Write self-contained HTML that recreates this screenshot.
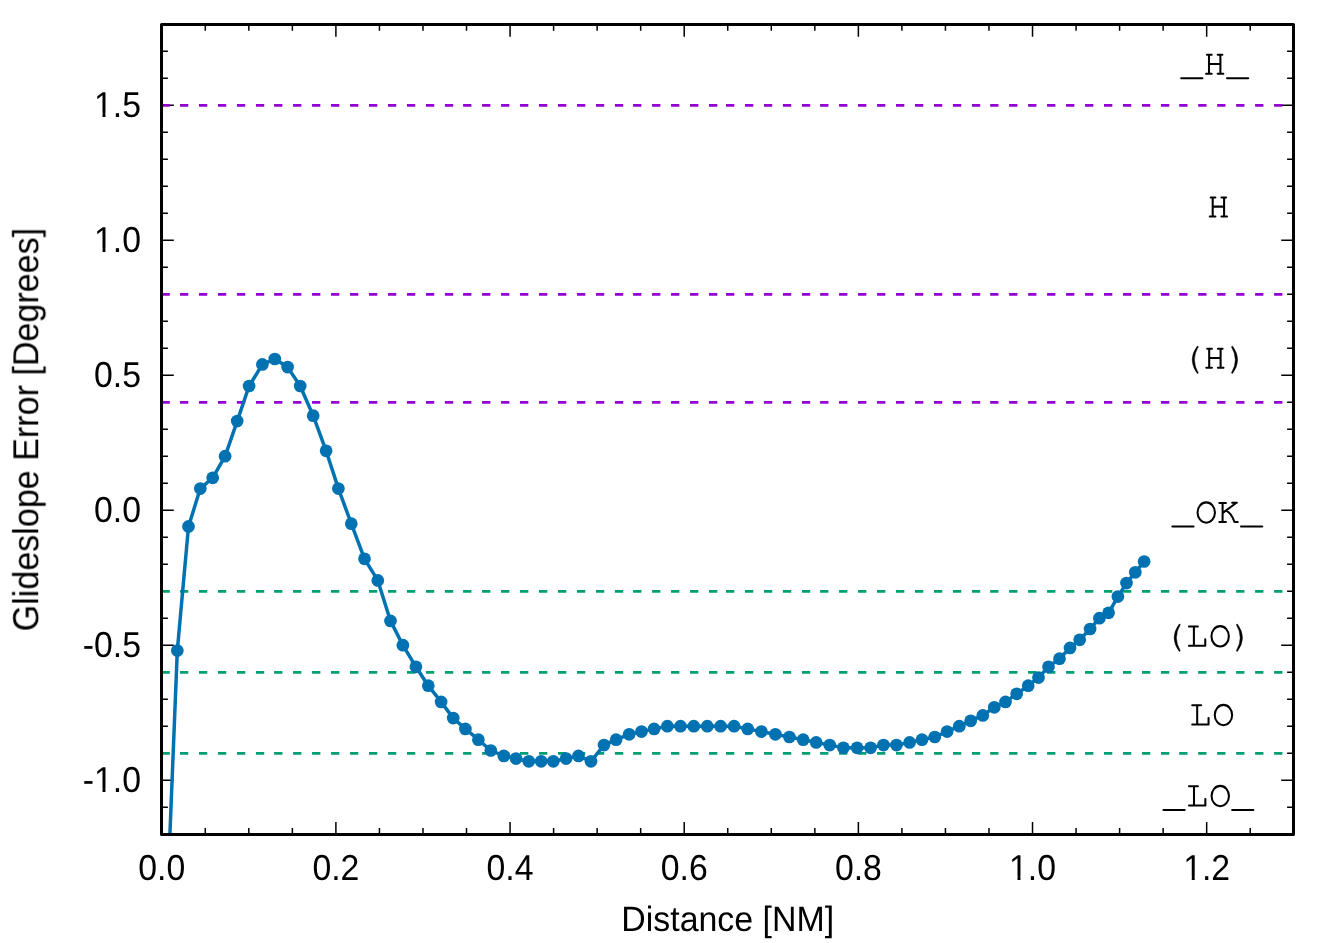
<!DOCTYPE html>
<html><head><meta charset="utf-8"><title>Glideslope Error</title>
<style>
html,body{margin:0;padding:0;background:#fff;}
body{width:1318px;height:943px;overflow:hidden;}
svg{display:block;}
text{font-family:"Liberation Sans",sans-serif;fill:#000;text-rendering:geometricPrecision;}
.t{opacity:0.999;}
</style></head><body>
<svg width="1318" height="943" viewBox="0 0 1318 943">
<rect x="0" y="0" width="1318" height="943" fill="#ffffff"/>
<path d="M161.75,834.4v-12.3M161.75,24.4v12.3M205.29,834.4v-6.4M205.29,24.4v6.4M248.83,834.4v-6.4M248.83,24.4v6.4M292.37,834.4v-6.4M292.37,24.4v6.4M335.90,834.4v-12.3M335.90,24.4v12.3M379.44,834.4v-6.4M379.44,24.4v6.4M422.98,834.4v-6.4M422.98,24.4v6.4M466.52,834.4v-6.4M466.52,24.4v6.4M510.06,834.4v-12.3M510.06,24.4v12.3M553.60,834.4v-6.4M553.60,24.4v6.4M597.13,834.4v-6.4M597.13,24.4v6.4M640.67,834.4v-6.4M640.67,24.4v6.4M684.21,834.4v-12.3M684.21,24.4v12.3M727.75,834.4v-6.4M727.75,24.4v6.4M771.29,834.4v-6.4M771.29,24.4v6.4M814.83,834.4v-6.4M814.83,24.4v6.4M858.37,834.4v-12.3M858.37,24.4v12.3M901.90,834.4v-6.4M901.90,24.4v6.4M945.44,834.4v-6.4M945.44,24.4v6.4M988.98,834.4v-6.4M988.98,24.4v6.4M1032.52,834.4v-12.3M1032.52,24.4v12.3M1076.06,834.4v-6.4M1076.06,24.4v6.4M1119.60,834.4v-6.4M1119.60,24.4v6.4M1163.13,834.4v-6.4M1163.13,24.4v6.4M1206.67,834.4v-12.3M1206.67,24.4v12.3M1250.21,834.4v-6.4M1250.21,24.4v6.4M1293.75,834.4v-6.4M1293.75,24.4v6.4M161.5,834.20h6.4M1293.5,834.20h-6.4M161.5,807.20h6.4M1293.5,807.20h-6.4M161.5,780.20h12.3M1293.5,780.20h-12.3M161.5,753.20h6.4M1293.5,753.20h-6.4M161.5,726.20h6.4M1293.5,726.20h-6.4M161.5,699.20h6.4M1293.5,699.20h-6.4M161.5,672.20h6.4M1293.5,672.20h-6.4M161.5,645.20h12.3M1293.5,645.20h-12.3M161.5,618.20h6.4M1293.5,618.20h-6.4M161.5,591.20h6.4M1293.5,591.20h-6.4M161.5,564.20h6.4M1293.5,564.20h-6.4M161.5,537.20h6.4M1293.5,537.20h-6.4M161.5,510.20h12.3M1293.5,510.20h-12.3M161.5,483.20h6.4M1293.5,483.20h-6.4M161.5,456.20h6.4M1293.5,456.20h-6.4M161.5,429.20h6.4M1293.5,429.20h-6.4M161.5,402.20h6.4M1293.5,402.20h-6.4M161.5,375.20h12.3M1293.5,375.20h-12.3M161.5,348.20h6.4M1293.5,348.20h-6.4M161.5,321.20h6.4M1293.5,321.20h-6.4M161.5,294.20h6.4M1293.5,294.20h-6.4M161.5,267.20h6.4M1293.5,267.20h-6.4M161.5,240.20h12.3M1293.5,240.20h-12.3M161.5,213.20h6.4M1293.5,213.20h-6.4M161.5,186.20h6.4M1293.5,186.20h-6.4M161.5,159.20h6.4M1293.5,159.20h-6.4M161.5,132.20h6.4M1293.5,132.20h-6.4M161.5,105.20h12.3M1293.5,105.20h-12.3M161.5,78.20h6.4M1293.5,78.20h-6.4M161.5,51.20h6.4M1293.5,51.20h-6.4M161.5,24.20h6.4M1293.5,24.20h-6.4" stroke="#000" stroke-width="1.5" fill="none"/>
<path d="M161.50,105.40H169.80M180.00,105.40H188.30M198.98,105.40H207.28M217.96,105.40H226.26M236.94,105.40H245.24M255.92,105.40H264.22M274.10,105.40H282.40M293.08,105.40H301.38M312.06,105.40H320.36M331.04,105.40H339.34M350.02,105.40H358.32M369.00,105.40H377.30M387.98,105.40H396.28M406.96,105.40H415.26M425.94,105.40H434.24M444.92,105.40H453.22M463.10,105.40H471.40M482.08,105.40H490.38M501.06,105.40H509.36M520.04,105.40H528.34M539.02,105.40H547.32M558.00,105.40H566.30M576.98,105.40H585.28M595.96,105.40H604.26M614.94,105.40H623.24M633.10,105.40H641.40M652.08,105.40H660.38M671.06,105.40H679.36M690.04,105.40H698.34M709.02,105.40H717.32M726.00,105.40H734.30M744.98,105.40H753.28M763.96,105.40H772.26M782.94,105.40H791.24M801.92,105.40H810.22M820.10,105.40H828.40M839.08,105.40H847.38M858.06,105.40H866.36M877.04,105.40H885.34M896.02,105.40H904.32M915.00,105.40H923.30M933.98,105.40H942.28M952.96,105.40H961.26M971.94,105.40H980.24M990.15,105.40H998.45M1009.13,105.40H1017.43M1028.11,105.40H1036.41M1047.09,105.40H1055.39M1066.07,105.40H1074.37M1085.05,105.40H1093.35M1104.03,105.40H1112.33M1123.01,105.40H1131.31M1141.99,105.40H1150.29M1160.97,105.40H1169.27M1179.20,105.40H1187.50M1198.18,105.40H1206.48M1217.16,105.40H1225.46M1236.14,105.40H1244.44M1255.12,105.40H1263.42M1274.10,105.40H1282.40M1293.08,105.40H1293.50" stroke="#9400d3" stroke-width="2.7" fill="none"/>
<path d="M161.50,294.40H169.80M180.00,294.40H188.30M198.98,294.40H207.28M217.96,294.40H226.26M236.94,294.40H245.24M255.92,294.40H264.22M274.10,294.40H282.40M293.08,294.40H301.38M312.06,294.40H320.36M331.04,294.40H339.34M350.02,294.40H358.32M369.00,294.40H377.30M387.98,294.40H396.28M406.96,294.40H415.26M425.94,294.40H434.24M444.92,294.40H453.22M463.10,294.40H471.40M482.08,294.40H490.38M501.06,294.40H509.36M520.04,294.40H528.34M539.02,294.40H547.32M558.00,294.40H566.30M576.98,294.40H585.28M595.96,294.40H604.26M614.94,294.40H623.24M633.10,294.40H641.40M652.08,294.40H660.38M671.06,294.40H679.36M690.04,294.40H698.34M709.02,294.40H717.32M726.00,294.40H734.30M744.98,294.40H753.28M763.96,294.40H772.26M782.94,294.40H791.24M801.92,294.40H810.22M820.10,294.40H828.40M839.08,294.40H847.38M858.06,294.40H866.36M877.04,294.40H885.34M896.02,294.40H904.32M915.00,294.40H923.30M933.98,294.40H942.28M952.96,294.40H961.26M971.94,294.40H980.24M990.15,294.40H998.45M1009.13,294.40H1017.43M1028.11,294.40H1036.41M1047.09,294.40H1055.39M1066.07,294.40H1074.37M1085.05,294.40H1093.35M1104.03,294.40H1112.33M1123.01,294.40H1131.31M1141.99,294.40H1150.29M1160.97,294.40H1169.27M1179.20,294.40H1187.50M1198.18,294.40H1206.48M1217.16,294.40H1225.46M1236.14,294.40H1244.44M1255.12,294.40H1263.42M1274.10,294.40H1282.40M1293.08,294.40H1293.50" stroke="#9400d3" stroke-width="2.7" fill="none"/>
<path d="M161.50,402.40H169.80M180.00,402.40H188.30M198.98,402.40H207.28M217.96,402.40H226.26M236.94,402.40H245.24M255.92,402.40H264.22M274.10,402.40H282.40M293.08,402.40H301.38M312.06,402.40H320.36M331.04,402.40H339.34M350.02,402.40H358.32M369.00,402.40H377.30M387.98,402.40H396.28M406.96,402.40H415.26M425.94,402.40H434.24M444.92,402.40H453.22M463.10,402.40H471.40M482.08,402.40H490.38M501.06,402.40H509.36M520.04,402.40H528.34M539.02,402.40H547.32M558.00,402.40H566.30M576.98,402.40H585.28M595.96,402.40H604.26M614.94,402.40H623.24M633.10,402.40H641.40M652.08,402.40H660.38M671.06,402.40H679.36M690.04,402.40H698.34M709.02,402.40H717.32M726.00,402.40H734.30M744.98,402.40H753.28M763.96,402.40H772.26M782.94,402.40H791.24M801.92,402.40H810.22M820.10,402.40H828.40M839.08,402.40H847.38M858.06,402.40H866.36M877.04,402.40H885.34M896.02,402.40H904.32M915.00,402.40H923.30M933.98,402.40H942.28M952.96,402.40H961.26M971.94,402.40H980.24M990.15,402.40H998.45M1009.13,402.40H1017.43M1028.11,402.40H1036.41M1047.09,402.40H1055.39M1066.07,402.40H1074.37M1085.05,402.40H1093.35M1104.03,402.40H1112.33M1123.01,402.40H1131.31M1141.99,402.40H1150.29M1160.97,402.40H1169.27M1179.20,402.40H1187.50M1198.18,402.40H1206.48M1217.16,402.40H1225.46M1236.14,402.40H1244.44M1255.12,402.40H1263.42M1274.10,402.40H1282.40M1293.08,402.40H1293.50" stroke="#9400d3" stroke-width="2.7" fill="none"/>
<path d="M161.50,591.40H169.80M180.00,591.40H188.30M198.98,591.40H207.28M217.96,591.40H226.26M236.94,591.40H245.24M255.92,591.40H264.22M274.10,591.40H282.40M293.08,591.40H301.38M312.06,591.40H320.36M331.04,591.40H339.34M350.02,591.40H358.32M369.00,591.40H377.30M387.98,591.40H396.28M406.96,591.40H415.26M425.94,591.40H434.24M444.92,591.40H453.22M463.10,591.40H471.40M482.08,591.40H490.38M501.06,591.40H509.36M520.04,591.40H528.34M539.02,591.40H547.32M558.00,591.40H566.30M576.98,591.40H585.28M595.96,591.40H604.26M614.94,591.40H623.24M633.10,591.40H641.40M652.08,591.40H660.38M671.06,591.40H679.36M690.04,591.40H698.34M709.02,591.40H717.32M726.00,591.40H734.30M744.98,591.40H753.28M763.96,591.40H772.26M782.94,591.40H791.24M801.92,591.40H810.22M820.10,591.40H828.40M839.08,591.40H847.38M858.06,591.40H866.36M877.04,591.40H885.34M896.02,591.40H904.32M915.00,591.40H923.30M933.98,591.40H942.28M952.96,591.40H961.26M971.94,591.40H980.24M990.15,591.40H998.45M1009.13,591.40H1017.43M1028.11,591.40H1036.41M1047.09,591.40H1055.39M1066.07,591.40H1074.37M1085.05,591.40H1093.35M1104.03,591.40H1112.33M1123.01,591.40H1131.31M1141.99,591.40H1150.29M1160.97,591.40H1169.27M1179.20,591.40H1187.50M1198.18,591.40H1206.48M1217.16,591.40H1225.46M1236.14,591.40H1244.44M1255.12,591.40H1263.42M1274.10,591.40H1282.40M1293.08,591.40H1293.50" stroke="#009e73" stroke-width="2.7" fill="none"/>
<path d="M161.50,672.40H169.80M180.00,672.40H188.30M198.98,672.40H207.28M217.96,672.40H226.26M236.94,672.40H245.24M255.92,672.40H264.22M274.10,672.40H282.40M293.08,672.40H301.38M312.06,672.40H320.36M331.04,672.40H339.34M350.02,672.40H358.32M369.00,672.40H377.30M387.98,672.40H396.28M406.96,672.40H415.26M425.94,672.40H434.24M444.92,672.40H453.22M463.10,672.40H471.40M482.08,672.40H490.38M501.06,672.40H509.36M520.04,672.40H528.34M539.02,672.40H547.32M558.00,672.40H566.30M576.98,672.40H585.28M595.96,672.40H604.26M614.94,672.40H623.24M633.10,672.40H641.40M652.08,672.40H660.38M671.06,672.40H679.36M690.04,672.40H698.34M709.02,672.40H717.32M726.00,672.40H734.30M744.98,672.40H753.28M763.96,672.40H772.26M782.94,672.40H791.24M801.92,672.40H810.22M820.10,672.40H828.40M839.08,672.40H847.38M858.06,672.40H866.36M877.04,672.40H885.34M896.02,672.40H904.32M915.00,672.40H923.30M933.98,672.40H942.28M952.96,672.40H961.26M971.94,672.40H980.24M990.15,672.40H998.45M1009.13,672.40H1017.43M1028.11,672.40H1036.41M1047.09,672.40H1055.39M1066.07,672.40H1074.37M1085.05,672.40H1093.35M1104.03,672.40H1112.33M1123.01,672.40H1131.31M1141.99,672.40H1150.29M1160.97,672.40H1169.27M1179.20,672.40H1187.50M1198.18,672.40H1206.48M1217.16,672.40H1225.46M1236.14,672.40H1244.44M1255.12,672.40H1263.42M1274.10,672.40H1282.40M1293.08,672.40H1293.50" stroke="#009e73" stroke-width="2.7" fill="none"/>
<path d="M161.50,753.40H169.80M180.00,753.40H188.30M198.98,753.40H207.28M217.96,753.40H226.26M236.94,753.40H245.24M255.92,753.40H264.22M274.10,753.40H282.40M293.08,753.40H301.38M312.06,753.40H320.36M331.04,753.40H339.34M350.02,753.40H358.32M369.00,753.40H377.30M387.98,753.40H396.28M406.96,753.40H415.26M425.94,753.40H434.24M444.92,753.40H453.22M463.10,753.40H471.40M482.08,753.40H490.38M501.06,753.40H509.36M520.04,753.40H528.34M539.02,753.40H547.32M558.00,753.40H566.30M576.98,753.40H585.28M595.96,753.40H604.26M614.94,753.40H623.24M633.10,753.40H641.40M652.08,753.40H660.38M671.06,753.40H679.36M690.04,753.40H698.34M709.02,753.40H717.32M726.00,753.40H734.30M744.98,753.40H753.28M763.96,753.40H772.26M782.94,753.40H791.24M801.92,753.40H810.22M820.10,753.40H828.40M839.08,753.40H847.38M858.06,753.40H866.36M877.04,753.40H885.34M896.02,753.40H904.32M915.00,753.40H923.30M933.98,753.40H942.28M952.96,753.40H961.26M971.94,753.40H980.24M990.15,753.40H998.45M1009.13,753.40H1017.43M1028.11,753.40H1036.41M1047.09,753.40H1055.39M1066.07,753.40H1074.37M1085.05,753.40H1093.35M1104.03,753.40H1112.33M1123.01,753.40H1131.31M1141.99,753.40H1150.29M1160.97,753.40H1169.27M1179.20,753.40H1187.50M1198.18,753.40H1206.48M1217.16,753.40H1225.46M1236.14,753.40H1244.44M1255.12,753.40H1263.42M1274.10,753.40H1282.40M1293.08,753.40H1293.50" stroke="#009e73" stroke-width="2.7" fill="none"/>
<clipPath id="c"><rect x="161.5" y="24.4" width="1132.0" height="810.0"/></clipPath>
<path d="M164.80,961.10 L177.30,650.60 L188.50,526.40 L200.30,488.60 L212.70,477.80 L225.10,456.20 L237.20,421.10 L249.10,386.00 L262.40,364.40 L274.80,359.00 L287.60,367.10 L300.20,386.00 L313.20,415.70 L326.10,450.80 L338.40,488.60 L351.30,523.70 L364.50,558.80 L377.80,580.40 L390.50,620.90 L402.90,645.20 L415.90,666.80 L428.30,685.70 L441.10,701.90 L453.20,718.10 L465.40,728.90 L478.40,739.70 L490.80,750.50 L503.80,755.90 L516.00,758.60 L528.80,761.30 L541.20,761.30 L553.30,761.30 L566.10,758.60 L578.50,755.90 L591.00,761.30 L604.00,745.10 L616.10,739.70 L629.20,734.30 L641.50,731.60 L654.10,728.90 L667.40,726.20 L680.50,726.20 L693.80,726.20 L707.30,726.20 L720.60,726.20 L734.10,726.20 L747.70,728.90 L761.40,731.60 L775.40,734.30 L789.40,737.00 L803.20,739.70 L816.20,742.40 L829.70,745.10 L843.40,747.80 L857.10,747.80 L870.60,747.80 L883.50,745.10 L896.50,745.10 L909.60,742.40 L922.00,739.70 L934.80,737.00 L947.10,731.60 L959.30,726.20 L970.70,720.80 L982.80,715.40 L994.30,707.30 L1005.50,701.90 L1016.70,693.80 L1028.20,685.70 L1038.50,677.60 L1048.50,666.80 L1059.50,658.70 L1070.00,647.90 L1079.70,639.80 L1090.10,629.00 L1099.40,618.20 L1108.60,612.80 L1117.90,596.60 L1126.50,583.10 L1135.30,572.30 L1144.10,561.50" stroke="#0072b2" stroke-width="3.5" fill="none" stroke-linejoin="round" clip-path="url(#c)"/>
<circle cx="177.30" cy="650.60" r="6.35" fill="#0072b2"/><circle cx="188.50" cy="526.40" r="6.35" fill="#0072b2"/><circle cx="200.30" cy="488.60" r="6.35" fill="#0072b2"/><circle cx="212.70" cy="477.80" r="6.35" fill="#0072b2"/><circle cx="225.10" cy="456.20" r="6.35" fill="#0072b2"/><circle cx="237.20" cy="421.10" r="6.35" fill="#0072b2"/><circle cx="249.10" cy="386.00" r="6.35" fill="#0072b2"/><circle cx="262.40" cy="364.40" r="6.35" fill="#0072b2"/><circle cx="274.80" cy="359.00" r="6.35" fill="#0072b2"/><circle cx="287.60" cy="367.10" r="6.35" fill="#0072b2"/><circle cx="300.20" cy="386.00" r="6.35" fill="#0072b2"/><circle cx="313.20" cy="415.70" r="6.35" fill="#0072b2"/><circle cx="326.10" cy="450.80" r="6.35" fill="#0072b2"/><circle cx="338.40" cy="488.60" r="6.35" fill="#0072b2"/><circle cx="351.30" cy="523.70" r="6.35" fill="#0072b2"/><circle cx="364.50" cy="558.80" r="6.35" fill="#0072b2"/><circle cx="377.80" cy="580.40" r="6.35" fill="#0072b2"/><circle cx="390.50" cy="620.90" r="6.35" fill="#0072b2"/><circle cx="402.90" cy="645.20" r="6.35" fill="#0072b2"/><circle cx="415.90" cy="666.80" r="6.35" fill="#0072b2"/><circle cx="428.30" cy="685.70" r="6.35" fill="#0072b2"/><circle cx="441.10" cy="701.90" r="6.35" fill="#0072b2"/><circle cx="453.20" cy="718.10" r="6.35" fill="#0072b2"/><circle cx="465.40" cy="728.90" r="6.35" fill="#0072b2"/><circle cx="478.40" cy="739.70" r="6.35" fill="#0072b2"/><circle cx="490.80" cy="750.50" r="6.35" fill="#0072b2"/><circle cx="503.80" cy="755.90" r="6.35" fill="#0072b2"/><circle cx="516.00" cy="758.60" r="6.35" fill="#0072b2"/><circle cx="528.80" cy="761.30" r="6.35" fill="#0072b2"/><circle cx="541.20" cy="761.30" r="6.35" fill="#0072b2"/><circle cx="553.30" cy="761.30" r="6.35" fill="#0072b2"/><circle cx="566.10" cy="758.60" r="6.35" fill="#0072b2"/><circle cx="578.50" cy="755.90" r="6.35" fill="#0072b2"/><circle cx="591.00" cy="761.30" r="6.35" fill="#0072b2"/><circle cx="604.00" cy="745.10" r="6.35" fill="#0072b2"/><circle cx="616.10" cy="739.70" r="6.35" fill="#0072b2"/><circle cx="629.20" cy="734.30" r="6.35" fill="#0072b2"/><circle cx="641.50" cy="731.60" r="6.35" fill="#0072b2"/><circle cx="654.10" cy="728.90" r="6.35" fill="#0072b2"/><circle cx="667.40" cy="726.20" r="6.35" fill="#0072b2"/><circle cx="680.50" cy="726.20" r="6.35" fill="#0072b2"/><circle cx="693.80" cy="726.20" r="6.35" fill="#0072b2"/><circle cx="707.30" cy="726.20" r="6.35" fill="#0072b2"/><circle cx="720.60" cy="726.20" r="6.35" fill="#0072b2"/><circle cx="734.10" cy="726.20" r="6.35" fill="#0072b2"/><circle cx="747.70" cy="728.90" r="6.35" fill="#0072b2"/><circle cx="761.40" cy="731.60" r="6.35" fill="#0072b2"/><circle cx="775.40" cy="734.30" r="6.35" fill="#0072b2"/><circle cx="789.40" cy="737.00" r="6.35" fill="#0072b2"/><circle cx="803.20" cy="739.70" r="6.35" fill="#0072b2"/><circle cx="816.20" cy="742.40" r="6.35" fill="#0072b2"/><circle cx="829.70" cy="745.10" r="6.35" fill="#0072b2"/><circle cx="843.40" cy="747.80" r="6.35" fill="#0072b2"/><circle cx="857.10" cy="747.80" r="6.35" fill="#0072b2"/><circle cx="870.60" cy="747.80" r="6.35" fill="#0072b2"/><circle cx="883.50" cy="745.10" r="6.35" fill="#0072b2"/><circle cx="896.50" cy="745.10" r="6.35" fill="#0072b2"/><circle cx="909.60" cy="742.40" r="6.35" fill="#0072b2"/><circle cx="922.00" cy="739.70" r="6.35" fill="#0072b2"/><circle cx="934.80" cy="737.00" r="6.35" fill="#0072b2"/><circle cx="947.10" cy="731.60" r="6.35" fill="#0072b2"/><circle cx="959.30" cy="726.20" r="6.35" fill="#0072b2"/><circle cx="970.70" cy="720.80" r="6.35" fill="#0072b2"/><circle cx="982.80" cy="715.40" r="6.35" fill="#0072b2"/><circle cx="994.30" cy="707.30" r="6.35" fill="#0072b2"/><circle cx="1005.50" cy="701.90" r="6.35" fill="#0072b2"/><circle cx="1016.70" cy="693.80" r="6.35" fill="#0072b2"/><circle cx="1028.20" cy="685.70" r="6.35" fill="#0072b2"/><circle cx="1038.50" cy="677.60" r="6.35" fill="#0072b2"/><circle cx="1048.50" cy="666.80" r="6.35" fill="#0072b2"/><circle cx="1059.50" cy="658.70" r="6.35" fill="#0072b2"/><circle cx="1070.00" cy="647.90" r="6.35" fill="#0072b2"/><circle cx="1079.70" cy="639.80" r="6.35" fill="#0072b2"/><circle cx="1090.10" cy="629.00" r="6.35" fill="#0072b2"/><circle cx="1099.40" cy="618.20" r="6.35" fill="#0072b2"/><circle cx="1108.60" cy="612.80" r="6.35" fill="#0072b2"/><circle cx="1117.90" cy="596.60" r="6.35" fill="#0072b2"/><circle cx="1126.50" cy="583.10" r="6.35" fill="#0072b2"/><circle cx="1135.30" cy="572.30" r="6.35" fill="#0072b2"/><circle cx="1144.10" cy="561.50" r="6.35" fill="#0072b2"/>
<rect x="161.5" y="24.4" width="1132.0" height="810.0" fill="none" stroke="#000" stroke-width="3" stroke-linejoin="round"/>
<g class="t"><text transform="translate(161.75,880.0) scale(1,1.065)" font-size="33.8" text-anchor="middle">0.0</text><text transform="translate(335.90,880.0) scale(1,1.065)" font-size="33.8" text-anchor="middle">0.2</text><text transform="translate(510.06,880.0) scale(1,1.065)" font-size="33.8" text-anchor="middle">0.4</text><text transform="translate(684.21,880.0) scale(1,1.065)" font-size="33.8" text-anchor="middle">0.6</text><text transform="translate(858.37,880.0) scale(1,1.065)" font-size="33.8" text-anchor="middle">0.8</text><text transform="translate(1032.52,880.0) scale(1,1.065)" font-size="33.8" text-anchor="middle">1.0</text><text transform="translate(1206.67,880.0) scale(1,1.065)" font-size="33.8" text-anchor="middle">1.2</text><text transform="translate(141,117.00) scale(1,1.065)" font-size="33.8" text-anchor="end">1.5</text><text transform="translate(141,252.00) scale(1,1.065)" font-size="33.8" text-anchor="end">1.0</text><text transform="translate(141,387.00) scale(1,1.065)" font-size="33.8" text-anchor="end">0.5</text><text transform="translate(141,522.00) scale(1,1.065)" font-size="33.8" text-anchor="end">0.0</text><text transform="translate(141,657.00) scale(1,1.065)" font-size="33.8" text-anchor="end">-0.5</text><text transform="translate(141,792.00) scale(1,1.065)" font-size="33.8" text-anchor="end">-1.0</text>
<text transform="translate(727.70,931) scale(1,1.035)" font-size="33.9" text-anchor="middle">Distance [NM]</text>
<text transform="translate(38,429.60) rotate(-90) scale(1,1.06)" font-size="34.1" text-anchor="middle">Glideslope Error [Degrees]</text>
</g>
<rect x="95.00" y="113.30" width="7.50" height="4.70" fill="#fff"/><rect x="105.47" y="113.30" width="7.53" height="4.70" fill="#fff"/><rect x="95.00" y="248.30" width="7.50" height="4.70" fill="#fff"/><rect x="105.47" y="248.30" width="7.53" height="4.70" fill="#fff"/><rect x="95.00" y="788.30" width="7.50" height="4.70" fill="#fff"/><rect x="105.47" y="788.30" width="7.53" height="4.70" fill="#fff"/><rect x="1010.00" y="876.30" width="7.50" height="4.70" fill="#fff"/><rect x="1020.47" y="876.30" width="7.53" height="4.70" fill="#fff"/><rect x="1184.00" y="876.30" width="7.75" height="4.70" fill="#fff"/><rect x="1194.71" y="876.30" width="7.29" height="4.70" fill="#fff"/>
<path transform="translate(1191.80,74.80)" d="M-10.6,3.45H10.6" fill="none" stroke="#000" stroke-width="2.05" stroke-linecap="round" stroke-linejoin="round"/><path transform="translate(1214.70,74.80)" d="M-5.7,-20.1V-1.05M5.7,-20.1V-1.05M-7.7,-20.1H-3M3,-20.1H7.7M-8.6,-1.05H-3M3,-1.05H8.6M-5.7,-10.9H5.7" fill="none" stroke="#000" stroke-width="2.05" stroke-linecap="round" stroke-linejoin="round"/><path transform="translate(1237.60,74.80)" d="M-10.6,3.45H10.6" fill="none" stroke="#000" stroke-width="2.05" stroke-linecap="round" stroke-linejoin="round"/>
<path transform="translate(1218.40,217.50)" d="M-5.7,-20.1V-1.05M5.7,-20.1V-1.05M-7.7,-20.1H-3M3,-20.1H7.7M-8.6,-1.05H-3M3,-1.05H8.6M-5.7,-10.9H5.7" fill="none" stroke="#000" stroke-width="2.05" stroke-linecap="round" stroke-linejoin="round"/>
<path transform="translate(1192.00,368.90)" d="M5.3,-22.8Q-5.0,-9.1 5.3,4.7L6.4,4.1Q-1.4,-9.1 6.4,-22.2Z" fill="#000" stroke="#000" stroke-width="0.4" stroke-linejoin="round"/><path transform="translate(1214.90,368.90)" d="M-5.7,-20.1V-1.05M5.7,-20.1V-1.05M-7.7,-20.1H-3M3,-20.1H7.7M-8.6,-1.05H-3M3,-1.05H8.6M-5.7,-10.9H5.7" fill="none" stroke="#000" stroke-width="2.05" stroke-linecap="round" stroke-linejoin="round"/><path transform="translate(1237.80,368.90)" d="M-5.3,-22.8Q5.0,-9.1 -5.3,4.7L-6.4,4.1Q1.4,-9.1 -6.4,-22.2Z" fill="#000" stroke="#000" stroke-width="0.4" stroke-linejoin="round"/>
<path transform="translate(1182.95,523.00)" d="M-10.6,3.45H10.6" fill="none" stroke="#000" stroke-width="2.05" stroke-linecap="round" stroke-linejoin="round"/><path transform="translate(1205.85,523.00)" d="M0.4,-20.65A8.7,10.15 0 1 1 0.4,-0.35A8.7,10.15 0 1 1 0.4,-20.65Z" fill="none" stroke="#000" stroke-width="2.05" stroke-linecap="round" stroke-linejoin="round"/><path transform="translate(1228.75,523.00)" d="M-6.15,-20.1V-1.05M-9.4,-20.1H-2.8M-9.4,-1.05H-2.8M-5.6,-10.4L7.0,-19.8M3.4,-20.2H8.1M-2.2,-12.1C1.8,-10.2 4.0,-6 5.7,-1.2M5.9,-1.05H9.0" fill="none" stroke="#000" stroke-width="2.05" stroke-linecap="round" stroke-linejoin="round"/><path transform="translate(1251.65,523.00)" d="M-10.6,3.45H10.6" fill="none" stroke="#000" stroke-width="2.05" stroke-linecap="round" stroke-linejoin="round"/>
<path transform="translate(1173.95,646.80)" d="M5.3,-22.8Q-5.0,-9.1 5.3,4.7L6.4,4.1Q-1.4,-9.1 6.4,-22.2Z" fill="#000" stroke="#000" stroke-width="0.4" stroke-linejoin="round"/><path transform="translate(1196.85,646.80)" d="M-2.95,-20.2V-1.05M-7.9,-20.2H1M-7.9,-1.05H8.4V-7.4" fill="none" stroke="#000" stroke-width="2.05" stroke-linecap="round" stroke-linejoin="round"/><path transform="translate(1219.75,646.80)" d="M0.4,-20.65A8.7,10.15 0 1 1 0.4,-0.35A8.7,10.15 0 1 1 0.4,-20.65Z" fill="none" stroke="#000" stroke-width="2.05" stroke-linecap="round" stroke-linejoin="round"/><path transform="translate(1242.65,646.80)" d="M-5.3,-22.8Q5.0,-9.1 -5.3,4.7L-6.4,4.1Q1.4,-9.1 -6.4,-22.2Z" fill="#000" stroke="#000" stroke-width="0.4" stroke-linejoin="round"/>
<path transform="translate(1200.15,725.50)" d="M-2.95,-20.2V-1.05M-7.9,-20.2H1M-7.9,-1.05H8.4V-7.4" fill="none" stroke="#000" stroke-width="2.05" stroke-linecap="round" stroke-linejoin="round"/><path transform="translate(1223.05,725.50)" d="M0.4,-20.65A8.7,10.15 0 1 1 0.4,-0.35A8.7,10.15 0 1 1 0.4,-20.65Z" fill="none" stroke="#000" stroke-width="2.05" stroke-linecap="round" stroke-linejoin="round"/>
<path transform="translate(1174.05,806.50)" d="M-10.6,3.45H10.6" fill="none" stroke="#000" stroke-width="2.05" stroke-linecap="round" stroke-linejoin="round"/><path transform="translate(1196.95,806.50)" d="M-2.95,-20.2V-1.05M-7.9,-20.2H1M-7.9,-1.05H8.4V-7.4" fill="none" stroke="#000" stroke-width="2.05" stroke-linecap="round" stroke-linejoin="round"/><path transform="translate(1219.85,806.50)" d="M0.4,-20.65A8.7,10.15 0 1 1 0.4,-0.35A8.7,10.15 0 1 1 0.4,-20.65Z" fill="none" stroke="#000" stroke-width="2.05" stroke-linecap="round" stroke-linejoin="round"/><path transform="translate(1242.75,806.50)" d="M-10.6,3.45H10.6" fill="none" stroke="#000" stroke-width="2.05" stroke-linecap="round" stroke-linejoin="round"/>

</svg></body></html>
